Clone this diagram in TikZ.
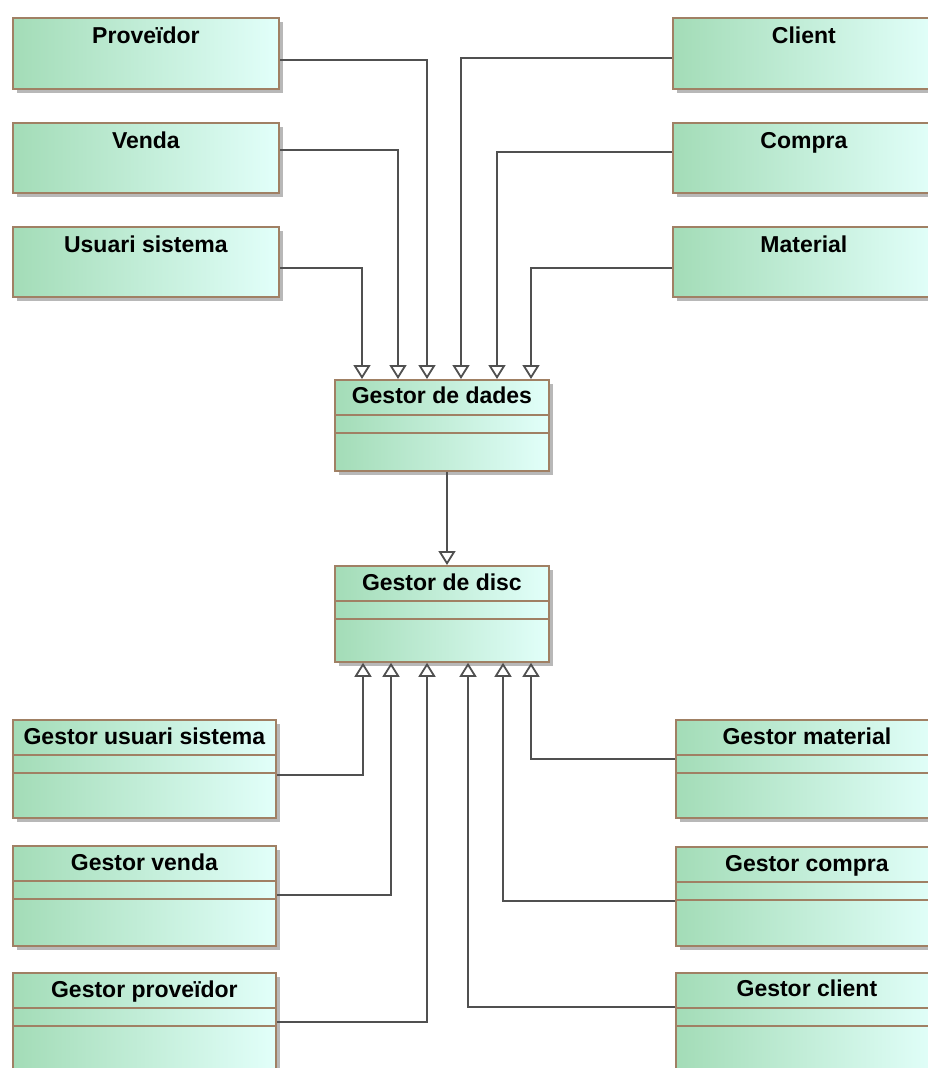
\documentclass[tikz,border=0pt]{standalone}
\usepackage{fontspec}
\setmainfont{Liberation Sans}
\usetikzlibrary{arrows.meta,shadows}
\definecolor{clsleft}{RGB}{163,220,183}
\definecolor{clsright}{RGB}{226,255,250}
\definecolor{clsborder}{RGB}{160,128,100}
\definecolor{connline}{RGB}{80,80,80}
\tikzset{
  cls/.style={draw=clsborder, line width=1.8pt, left color=clsleft, right color=clsright,
    anchor=north west, inner sep=0pt,
    drop shadow={shadow xshift=4pt, shadow yshift=-4pt, fill=black!28, opacity=1}},
  ttl/.style={anchor=base, inner sep=0pt, font=\fontsize{23}{27}\selectfont\bfseries},
  sepline/.style={draw=clsborder, line width=1.8pt},
  gen/.style={draw=connline, line width=1.8pt,
    -{Triangle[open, width=17pt, length=14pt, fill=white]}},
}
\begin{document}
\begin{tikzpicture}[x=1pt, y=-1pt]
\useasboundingbox (0,0) rectangle (928,1068);
\clip (0,0) rectangle (928,1068);
\fill[white] (0,0) rectangle (928,1068);
% entity classes
\node[cls, minimum width=266pt, minimum height=71pt] (prov) at (12,17) {};
\node[cls, minimum width=266pt, minimum height=70pt] (venda) at (12,122) {};
\node[cls, minimum width=266pt, minimum height=70pt] (usr) at (12,226) {};
\node[cls, minimum width=262pt, minimum height=71pt] (client) at (672,17) {};
\node[cls, minimum width=262pt, minimum height=70pt] (compra) at (672,122) {};
\node[cls, minimum width=262pt, minimum height=70pt] (mat) at (672,226) {};
\node[ttl] (provt) at ([yshift=-26pt]prov.north) {Proveïdor};
\node[ttl] (vendat) at ([yshift=-26pt]venda.north) {Venda};
\node[ttl] (usrt) at ([yshift=-26pt]usr.north) {Usuari sistema};
\node[ttl] (clientt) at ([yshift=-26pt]client.north) {Client};
\node[ttl] (comprat) at ([yshift=-26pt]compra.north) {Compra};
\node[ttl] (matt) at ([yshift=-26pt]mat.north) {Material};
% managers
\node[cls, minimum width=214pt, minimum height=91pt] (dades) at (334,379) {};
\node[cls, minimum width=214pt, minimum height=96pt] (disc) at (334,565) {};
\node[cls, minimum width=263pt, minimum height=98pt] (gusr) at (12,719) {};
\node[cls, minimum width=263pt, minimum height=100pt] (gvenda) at (12,845) {};
\node[cls, minimum width=263pt, minimum height=100pt] (gprov) at (12,972) {};
\node[cls, minimum width=262pt, minimum height=98pt] (gmat) at (675,719) {};
\node[cls, minimum width=262pt, minimum height=99pt] (gcompra) at (675,846) {};
\node[cls, minimum width=262pt, minimum height=100pt] (gclient) at (675,972) {};
\node[ttl] (dadest) at ([yshift=-24pt]dades.north) {Gestor de dades};
\node[ttl] (disct) at ([yshift=-25pt]disc.north) {Gestor de disc};
\node[ttl] (gusrt) at ([yshift=-25pt]gusr.north) {Gestor usuari sistema};
\node[ttl] (gvendat) at ([yshift=-25pt]gvenda.north) {Gestor venda};
\node[ttl] (gprovt) at ([yshift=-25pt]gprov.north) {Gestor proveïdor};
\node[ttl] (gmatt) at ([yshift=-25pt]gmat.north) {Gestor material};
\node[ttl] (gcomprat) at ([yshift=-25pt]gcompra.north) {Gestor compra};
\node[ttl] (gclientt) at ([yshift=-24pt]gclient.north) {Gestor client};
\foreach \b in {dades,disc,gusr,gvenda,gprov,gmat,gcompra,gclient} {
  \draw[sepline] ([yshift=-36pt]\b.north west) -- ([yshift=-36pt]\b.north east);
  \draw[sepline] ([yshift=-54pt]\b.north west) -- ([yshift=-54pt]\b.north east);
}
% generalizations
\draw[gen] (prov.east |- 0,60) -| (dades.north -| 427,0);
\draw[gen] (venda.east |- 0,150) -| (dades.north -| 398,0);
\draw[gen] (usr.east |- 0,268) -| (dades.north -| 362,0);
\draw[gen] (client.west |- 0,58) -| (dades.north -| 461,0);
\draw[gen] (compra.west |- 0,152) -| (dades.north -| 497,0);
\draw[gen] (mat.west |- 0,268) -| (dades.north -| 531,0);
\draw[gen] (dades.south -| 447,0) -- (disc.north -| 447,0);
\draw[gen] (gusr.east |- 0,775) -| (disc.south -| 363,0);
\draw[gen] (gvenda.east |- 0,895) -| (disc.south -| 391,0);
\draw[gen] (gprov.east |- 0,1022) -| (disc.south -| 427,0);
\draw[gen] (gclient.west |- 0,1007) -| (disc.south -| 468,0);
\draw[gen] (gcompra.west |- 0,901) -| (disc.south -| 503,0);
\draw[gen] (gmat.west |- 0,759) -| (disc.south -| 531,0);
\end{tikzpicture}
\end{document}
